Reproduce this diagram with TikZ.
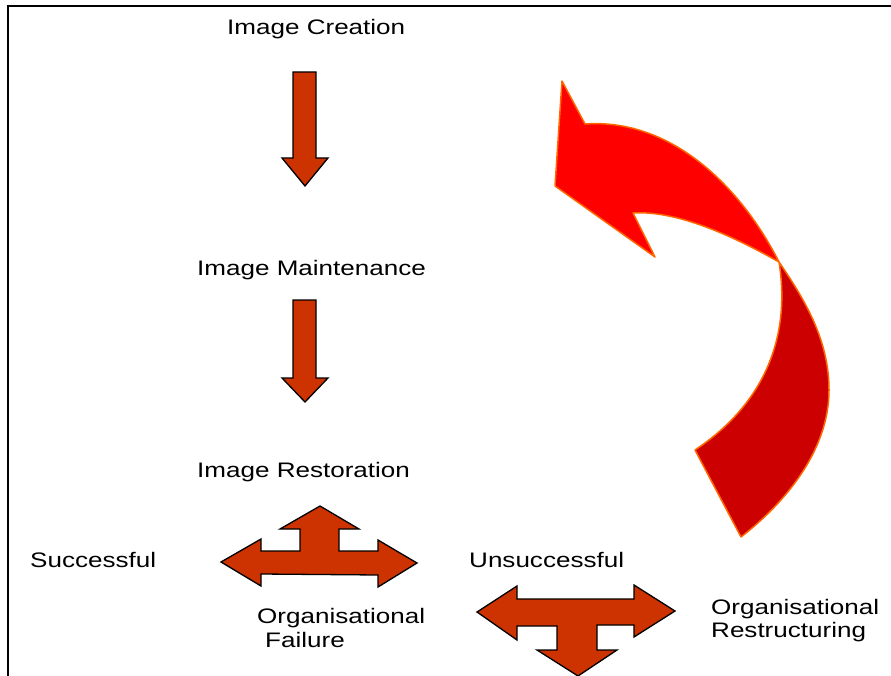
\documentclass[tikz,border=0pt]{standalone}
\usepackage{fontspec}
\setmainfont{Liberation Sans}[FakeStretch=1.24]
\definecolor{blockred}{HTML}{CC3300}
\definecolor{bendfront}{HTML}{FF0000}
\definecolor{bendback}{HTML}{CC0000}
\definecolor{bendedge}{HTML}{FF6600}
% down arrow between two stages: top of shaft, start of head, tip
\newcommand{\stagedown}[3]{\filldraw[block] (293,#1) -- (316,#1) -- (316,#2) -- (328,#2) -- (305,#3) -- (282,#2) -- (293,#2) -- cycle;}

\begin{document}
\begin{tikzpicture}[x=1pt,y=-1pt,
    block/.style={fill=blockred, draw=black, line width=1.3pt, line join=miter},
    ribbon/.style={draw=bendedge, line width=1.5pt, line join=round},
    lbl/.style={font=\fontsize{21}{24}\selectfont, inner sep=0pt, anchor=base west}]
    \useasboundingbox (0,0) rectangle (891,676);
    \draw[line width=2pt] (7.5,676) -- (7.5,6) -- (891,6);

    \node[lbl] (creation) at (227,35) {Image Creation};
    \node[lbl] (maintenance) at (197,276) {Image Maintenance};
    \node[lbl] (restoration) at (197,477) {Image Restoration};
    \node[lbl] (success) at (30,567) {Successful};
    \node[lbl] (nosuccess) at (469,567) {Unsuccessful};
    \node[lbl] (failA) at (257,623) {Organisational};
    \node[lbl] (failB) at (265,647) {Failure};
    \node[lbl] (restructA) at (711,614) {Organisational};
    \node[lbl] (restructB) at (711,637) {Restructuring};

    \stagedown{72}{158}{186}
    \stagedown{300}{378}{402}

    % three way split under restoration
    \filldraw[block] (221,562) -- (261,539) -- (261,551) -- (300,551) -- (300,529) -- (280,529)
        -- (320,506) -- (359,529) -- (339,529) -- (339,551) -- (378,551) -- (378,540)
        -- (417,563) -- (378,587) -- (378,575) -- (261,574) -- (261,586) -- cycle;
    % split after the unsuccessful case
    \filldraw[block] (477,612) -- (517,586) -- (517,599) -- (634,599) -- (634,585) -- (675,611)
        -- (634,637) -- (634,625) -- (597,625) -- (597,650) -- (617,650) -- (578,676)
        -- (537,650) -- (557,650) -- (557,626) -- (517,626) -- (517,640) -- cycle;

    % curved return arrow, back face then front face
    \filldraw[ribbon, fill=bendback] (779,262) .. controls (790,330) and (770,400) .. (695,450)
        -- (741,537) .. controls (786,502) and (829,450) .. (829,390)
        .. controls (829,340) and (805,300) .. (779,262) -- cycle;
    \filldraw[ribbon, fill=bendfront] (779,262) .. controls (740,185) and (670,118) .. (585,124)
        -- (562,81) -- (555,186) -- (655,257) -- (633,213)
        .. controls (680,210) and (740,240) .. (779,262) -- cycle;
\end{tikzpicture}
\end{document}
